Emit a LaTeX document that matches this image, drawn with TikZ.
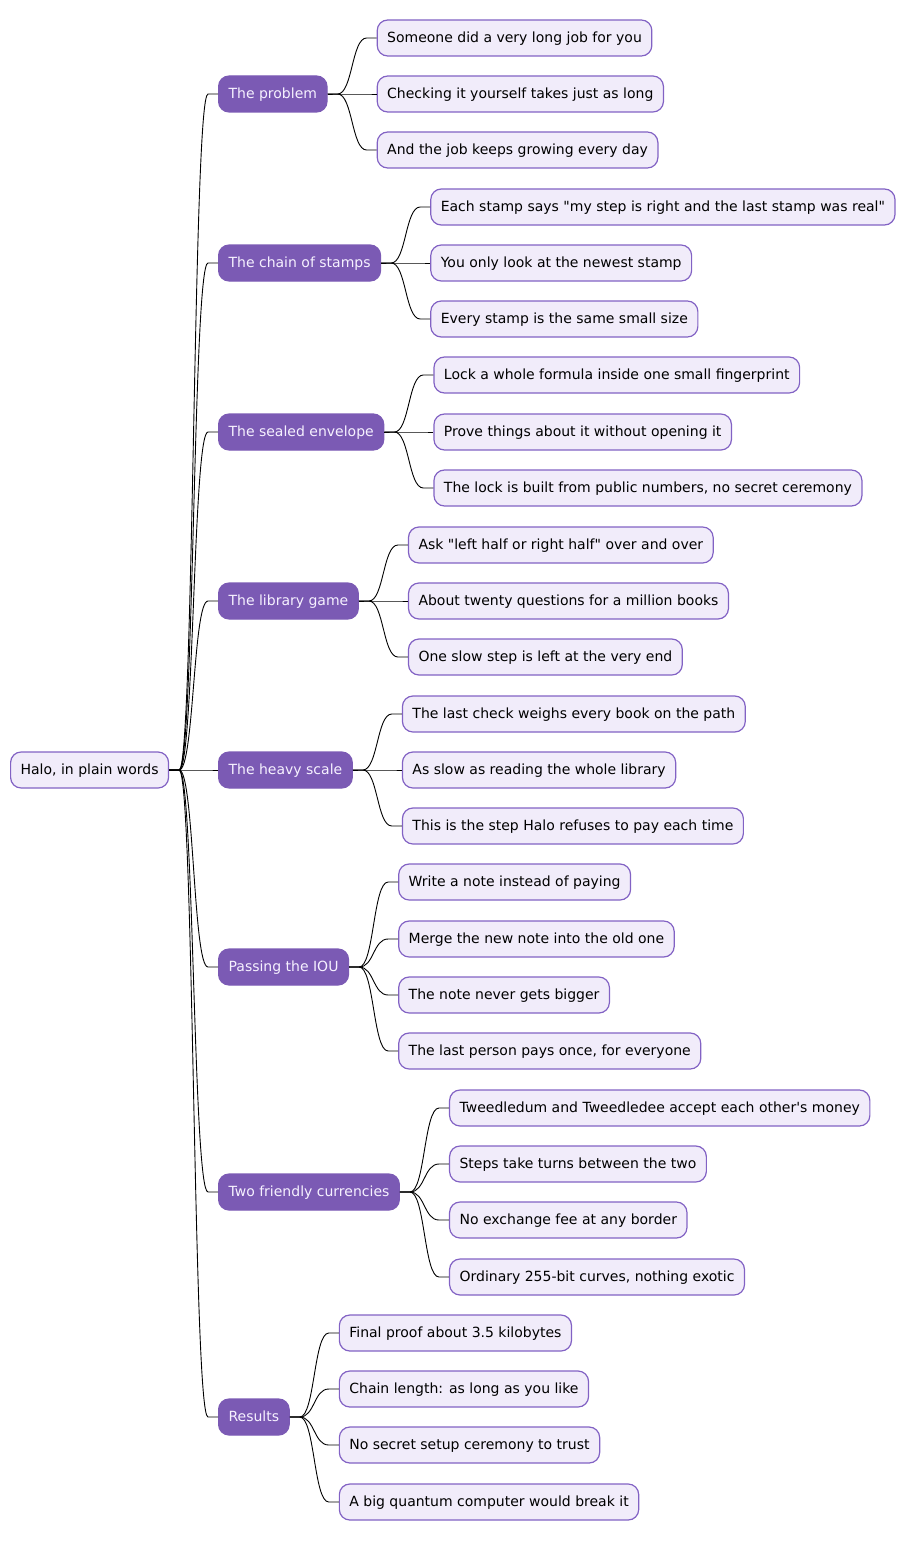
\documentclass[tikz,border=0pt]{standalone}
\usepackage{fontspec}
\newfontfamily\mapfont{DejaVu Sans}
\usetikzlibrary{calc}

\definecolor{topicfill}{HTML}{7B5AB4}
\definecolor{topictext}{HTML}{F6F1FF}
\definecolor{leaffill}{HTML}{F1ECFA}
\definecolor{leafline}{HTML}{8262C4}

\tikzset{
  leaf/.style={draw=leafline, fill=leaffill, line width=1.2pt, rounded corners=10.5pt,
    minimum height=36pt, inner xsep=10pt, anchor=west, text height=10.2pt, text depth=2pt,
    font=\mapfont\fontsize{14}{16}\selectfont},
  topic/.style={leaf, draw=topicfill, fill=topicfill, text=topictext},
  branch/.style={line width=0.9pt, black},
}

% curved connector, parent east to child west
\newcommand{\twig}[2]{\draw[branch] (#1.east) -- ++(10,0) .. controls +(15,0) and +(-15,0) .. ([xshift=-10pt]#2.west) -- (#2.west);}

\begin{document}
\begin{tikzpicture}[x=1pt,y=-1pt]
\useasboundingbox (0,0) rectangle (905,1541);

\node[leaf] (halo) at (10,770) {Halo, in plain words};

\node[topic] (prob) at (218,94) {The problem};
\node[topic] (chain) at (218,263) {The chain of stamps};
\node[topic] (env) at (218,432) {The sealed envelope};
\node[topic] (lib) at (218,601) {The library game};
\node[topic] (scale) at (218,770) {The heavy scale};
\node[topic] (iou) at (218,967) {Passing the IOU};
\node[topic] (coin) at (218,1192) {Two friendly currencies};
\node[topic] (res) at (218,1417) {Results};

\node[leaf] (prob-a) at ($(prob.east)+(49,-56)$) {Someone did a very long job for you};
\node[leaf] (prob-b) at ($(prob.east)+(49,0)$) {Checking it yourself takes just as long};
\node[leaf] (prob-c) at ($(prob.east)+(49,56)$) {And the job keeps growing every day};

\node[leaf] (chain-a) at ($(chain.east)+(49,-56)$) {Each stamp says "my step is right and the last stamp was real"};
\node[leaf] (chain-b) at ($(chain.east)+(49,0)$) {You only look at the newest stamp};
\node[leaf] (chain-c) at ($(chain.east)+(49,56)$) {Every stamp is the same small size};

\node[leaf] (env-a) at ($(env.east)+(49,-57)$) {Lock a whole formula inside one small fingerprint};
\node[leaf] (env-b) at ($(env.east)+(49,0)$) {Prove things about it without opening it};
\node[leaf] (env-c) at ($(env.east)+(49,56)$) {The lock is built from public numbers, no secret ceremony};

\node[leaf] (lib-a) at ($(lib.east)+(49,-56)$) {Ask "left half or right half" over and over};
\node[leaf] (lib-b) at ($(lib.east)+(49,0)$) {About twenty questions for a million books};
\node[leaf] (lib-c) at ($(lib.east)+(49,56)$) {One slow step is left at the very end};

\node[leaf] (scale-a) at ($(scale.east)+(49,-56)$) {The last check weighs every book on the path};
\node[leaf] (scale-b) at ($(scale.east)+(49,0)$) {As slow as reading the whole library};
\node[leaf] (scale-c) at ($(scale.east)+(49,56)$) {This is the step Halo refuses to pay each time};

\node[leaf] (iou-a) at ($(iou.east)+(49,-85)$) {Write a note instead of paying};
\node[leaf] (iou-b) at ($(iou.east)+(49,-28)$) {Merge the new note into the old one};
\node[leaf] (iou-c) at ($(iou.east)+(49,28)$) {The note never gets bigger};
\node[leaf] (iou-d) at ($(iou.east)+(49,84)$) {The last person pays once, for everyone};

\node[leaf] (coin-a) at ($(coin.east)+(49,-84)$) {Tweedledum and Tweedledee accept each other's money};
\node[leaf] (coin-b) at ($(coin.east)+(49,-28)$) {Steps take turns between the two};
\node[leaf] (coin-c) at ($(coin.east)+(49,28)$) {No exchange fee at any border};
\node[leaf] (coin-d) at ($(coin.east)+(49,85)$) {Ordinary 255-bit curves, nothing exotic};

\node[leaf] (res-a) at ($(res.east)+(49,-84)$) {Final proof about 3.5 kilobytes};
\node[leaf] (res-b) at ($(res.east)+(49,-28)$) {Chain length: as long as you like};
\node[leaf] (res-c) at ($(res.east)+(49,28)$) {No secret setup ceremony to trust};
\node[leaf] (res-d) at ($(res.east)+(49,85)$) {A big quantum computer would break it};

% root to topics
\foreach \t in {prob,chain,env,lib,scale,iou,coin,res} {\twig{halo}{\t}}

% topics to leaves
\foreach \l in {a,b,c} {
  \twig{prob}{prob-\l}
  \twig{chain}{chain-\l}
  \twig{env}{env-\l}
  \twig{lib}{lib-\l}
  \twig{scale}{scale-\l}
}
\foreach \l in {a,b,c,d} {
  \twig{iou}{iou-\l}
  \twig{coin}{coin-\l}
  \twig{res}{res-\l}
}
\end{tikzpicture}
\end{document}
